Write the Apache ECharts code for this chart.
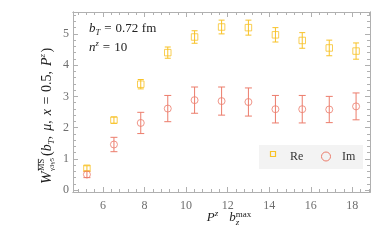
<!DOCTYPE html>
<html><head><meta charset="utf-8">
<script src="https://cdn.jsdelivr.net/npm/echarts@6/dist/echarts.min.js"></script>
<style>html,body{margin:0;padding:0;background:#fff}#c{width:382px;height:243px}</style>
</head><body><div id="c"></div>
<script>
// ---- data ----
const pzb = [5.23, 6.53, 7.82, 9.12, 10.41, 11.71, 13.0, 14.3, 15.59, 16.89, 18.18];
const reVal = [0.70, 2.24, 3.39, 4.40, 4.90, 5.22, 5.20, 4.97, 4.79, 4.55, 4.45];
const reErr = [0.08, 0.10, 0.15, 0.18, 0.20, 0.22, 0.24, 0.23, 0.25, 0.25, 0.26];
const imVal = [0.50, 1.46, 2.15, 2.61, 2.88, 2.85, 2.82, 2.59, 2.59, 2.58, 2.68];
const imErr = [0.10, 0.23, 0.34, 0.42, 0.42, 0.45, 0.45, 0.44, 0.44, 0.42, 0.43];
const xTicks = [6, 8, 10, 12, 14, 16, 18];
const yTicks = [0, 1, 2, 3, 4, 5];
const seriesNames = ['Re', 'Im'];

const X_MIN = 4.56, X_MAX = 18.85, Y_MIN = -0.06, Y_MAX = 5.7;
function minorVals(lo, hi, step, majors) {
  const out = [];
  const start = Math.ceil(lo / step - 1e-9);
  for (let k = start; k * step <= hi + 1e-9; k++) {
    const v = Math.round(k * step * 1000) / 1000;
    if (!majors.some(m => Math.abs(m - v) < 1e-6)) out.push(v);
  }
  return out;
}
const xMinor = minorVals(X_MIN, X_MAX, 0.4, xTicks);
const yMinor = minorVals(Y_MIN, Y_MAX, 0.2, yTicks);

const RE_C = '#f8c227', IM_C = '#ec7c6b';
const AX_C = '#b0b0b0', LBL_C = '#6e6e6e', TXT_C = '#222';
const SERIF = "'Liberation Serif', 'DejaVu Serif', serif";

// ---- text layout helper (sub/superscripts) ----
const ctx = document.createElement('canvas').getContext('2d');
function fontStr(s) { return (s.it ? 'italic ' : '') + s.size + 'px ' + SERIF; }
function layout(segs, x0, base, color) {
  let x = x0, pend = 0; const out = [];
  segs.forEach(s => {
    x += (s.dx || 0);
    const f = fontStr(s);
    ctx.font = f;
    const w = ctx.measureText(s.t).width;
    const by = base + (s.dy || 0);
    out.push({ type: 'text', x: x, y: by - 0.34 * s.size,
      style: { text: s.t, font: f, fill: color, align: 'left', verticalAlign: 'middle', textAlign: 'left', textVerticalAlign: 'middle' } });
    if (s.over) out.push({ type: 'line', shape: { x1: x + 0.5, y1: by - 0.78 * s.size, x2: x + w, y2: by - 0.78 * s.size }, style: { stroke: color, lineWidth: 0.7 } });
    if (s.stay) { pend = Math.max(pend, w); }
    else { x += Math.max(w, pend); pend = 0; }
  });
  return { els: out, width: x - x0 };
}
function centered(segs, cx, base, color) {
  const w = layout(segs, 0, base, color).width;
  return layout(segs, cx - w / 2, base, color).els;
}

// y-axis title (rotated)
const ySegs = [
  { t: 'W', it: true, size: 15 },
  { t: 'MS', size: 8.5, dy: -7, over: true, stay: true, dx: 0.5 },
  { t: 'γ3γ5', size: 7, dy: 3 },
  { t: '(', size: 14, dx: 2 },
  { t: 'b', it: true, size: 14 },
  { t: 'T', it: true, size: 9, dy: 3 },
  { t: ',', size: 14 },
  { t: 'μ', it: true, size: 14, dx: 5 },
  { t: ',', size: 14 },
  { t: 'x', it: true, size: 14, dx: 5 },
  { t: '=', size: 14, dx: 4.5 },
  { t: '0.5,', size: 14, dx: 4.5 },
  { t: 'P', it: true, size: 14, dx: 5 },
  { t: 'z', it: true, size: 9, dy: -6 },
  { t: ')', size: 14, dx: 1.5 }
];
const yTitle = { type: 'group', x: 52, y: 115, rotation: Math.PI / 2, children: centered(ySegs, -1, 0, TXT_C) };

// x-axis title
const xSegs = [
  { t: 'P', it: true, size: 13 },
  { t: 'z', it: true, size: 9, dy: -5 },
  { t: 'b', it: true, size: 13, dx: 11 },
  { t: 'max', size: 9, dy: -4.5, stay: true },
  { t: 'z', it: true, size: 9, dy: 4 }
];
const xTitle = { type: 'group', children: centered(xSegs, 229, 222, TXT_C) };

// annotations
const ann1 = layout([
  { t: 'b', it: true, size: 13 },
  { t: 'T', it: true, size: 8.5, dy: 2.5 },
  { t: '=', size: 13, dx: 4 },
  { t: '0.72', size: 13, dx: 4 },
  { t: 'fm', size: 13, dx: 3.5 }
], 89, 33, TXT_C).els;
const ann2 = layout([
  { t: 'n', it: true, size: 13 },
  { t: 'z', it: true, size: 8.5, dy: -5 },
  { t: '=', size: 13, dx: 4 },
  { t: '10', size: 13, dx: 4 }
], 89, 52, TXT_C).els;

// legend (graphic)
const legendEls = [
  { type: 'rect', shape: { x: 259, y: 145, width: 104, height: 24 }, style: { fill: '#f3f3f3' } },
  { type: 'rect', shape: { x: 270.5, y: 151.5, width: 5, height: 5 }, style: { fill: 'none', stroke: RE_C, lineWidth: 1.2 } },
  { type: 'text', x: 290, y: 157, style: { text: seriesNames[0], font: '12px ' + SERIF, fill: '#333', align: 'left', verticalAlign: 'middle', textAlign: 'left', textVerticalAlign: 'middle' } },
  { type: 'circle', shape: { cx: 326, cy: 156.5, r: 4.5 }, style: { fill: 'none', stroke: IM_C, lineWidth: 1 } },
  { type: 'text', x: 342, y: 157, style: { text: seriesNames[1], font: '12px ' + SERIF, fill: '#333', align: 'left', verticalAlign: 'middle', textAlign: 'left', textVerticalAlign: 'middle' } }
];

// ---- axes ----
function xAx(pos, vals, len, labels) {
  return { type: 'value', min: X_MIN, max: X_MAX, position: pos,
    axisLine: { show: true, onZero: false, lineStyle: { color: AX_C, width: 1 } },
    axisTick: { show: true, inside: true, length: len, customValues: vals, lineStyle: { color: AX_C } },
    axisLabel: { show: labels, customValues: vals, color: LBL_C, fontFamily: SERIF, fontSize: 12, margin: 8 },
    splitLine: { show: false } };
}
function yAx(pos, vals, len, labels) {
  return { type: 'value', min: Y_MIN, max: Y_MAX, position: pos,
    axisLine: { show: true, onZero: false, lineStyle: { color: AX_C, width: 1 } },
    axisTick: { show: true, inside: true, length: len, customValues: vals, lineStyle: { color: AX_C } },
    axisLabel: { show: labels, customValues: vals, color: LBL_C, fontFamily: SERIF, fontSize: 12, margin: 4 },
    splitLine: { show: false } };
}

function errData(v, e) { return pzb.map((x, i) => [x, v[i] - e[i], v[i] + e[i]]); }
function errSeries(name, v, e, color, cap) {
  return { type: 'custom', name: name + ' err', xAxisIndex: 0, yAxisIndex: 0, silent: true, z: 2,
    data: errData(v, e),
    renderItem: function (params, api) {
      const x = api.value(0);
      const a = api.coord([x, api.value(1)]), b = api.coord([x, api.value(2)]);
      const st = { stroke: color, lineWidth: 1 };
      return { type: 'group', children: [
        { type: 'line', shape: { x1: a[0], y1: a[1], x2: b[0], y2: b[1] }, style: st },
        { type: 'line', shape: { x1: a[0] - cap, y1: a[1], x2: a[0] + cap, y2: a[1] }, style: st },
        { type: 'line', shape: { x1: b[0] - cap, y1: b[1], x2: b[0] + cap, y2: b[1] }, style: st }
      ] };
    } };
}

const chart = echarts.init(document.getElementById('c'), null, { renderer: 'canvas' });
chart.setOption({
  animation: false,
  backgroundColor: '#fff',
  grid: { left: 73, right: 12, top: 12, bottom: 51, containLabel: false },
  xAxis: [ xAx('bottom', xTicks, 5, true), xAx('bottom', xMinor, 3, false), xAx('top', xTicks, 5, false), xAx('top', xMinor, 3, false) ],
  yAxis: [ yAx('left', yTicks, 5, true), yAx('left', yMinor, 3, false), yAx('right', yTicks, 5, false), yAx('right', yMinor, 3, false) ],
  series: [
    errSeries('Re', reVal, reErr, RE_C, 3),
    errSeries('Im', imVal, imErr, IM_C, 3.5),
    { type: 'scatter', name: seriesNames[0], xAxisIndex: 0, yAxisIndex: 0, z: 3, symbol: 'rect', symbolSize: 6.5,
      itemStyle: { color: 'rgba(255,255,255,0)', borderColor: RE_C, borderWidth: 1 },
      data: pzb.map((x, i) => [x, reVal[i]]) },
    { type: 'scatter', name: seriesNames[1], xAxisIndex: 0, yAxisIndex: 0, z: 3, symbol: 'circle', symbolSize: 7,
      itemStyle: { color: 'rgba(255,255,255,0)', borderColor: IM_C, borderWidth: 1 },
      data: pzb.map((x, i) => [x, imVal[i]]) }
  ],
  graphic: [ yTitle, xTitle, { type: 'group', children: ann1.concat(ann2) }, { type: 'group', children: legendEls } ]
});
</script></body></html>
